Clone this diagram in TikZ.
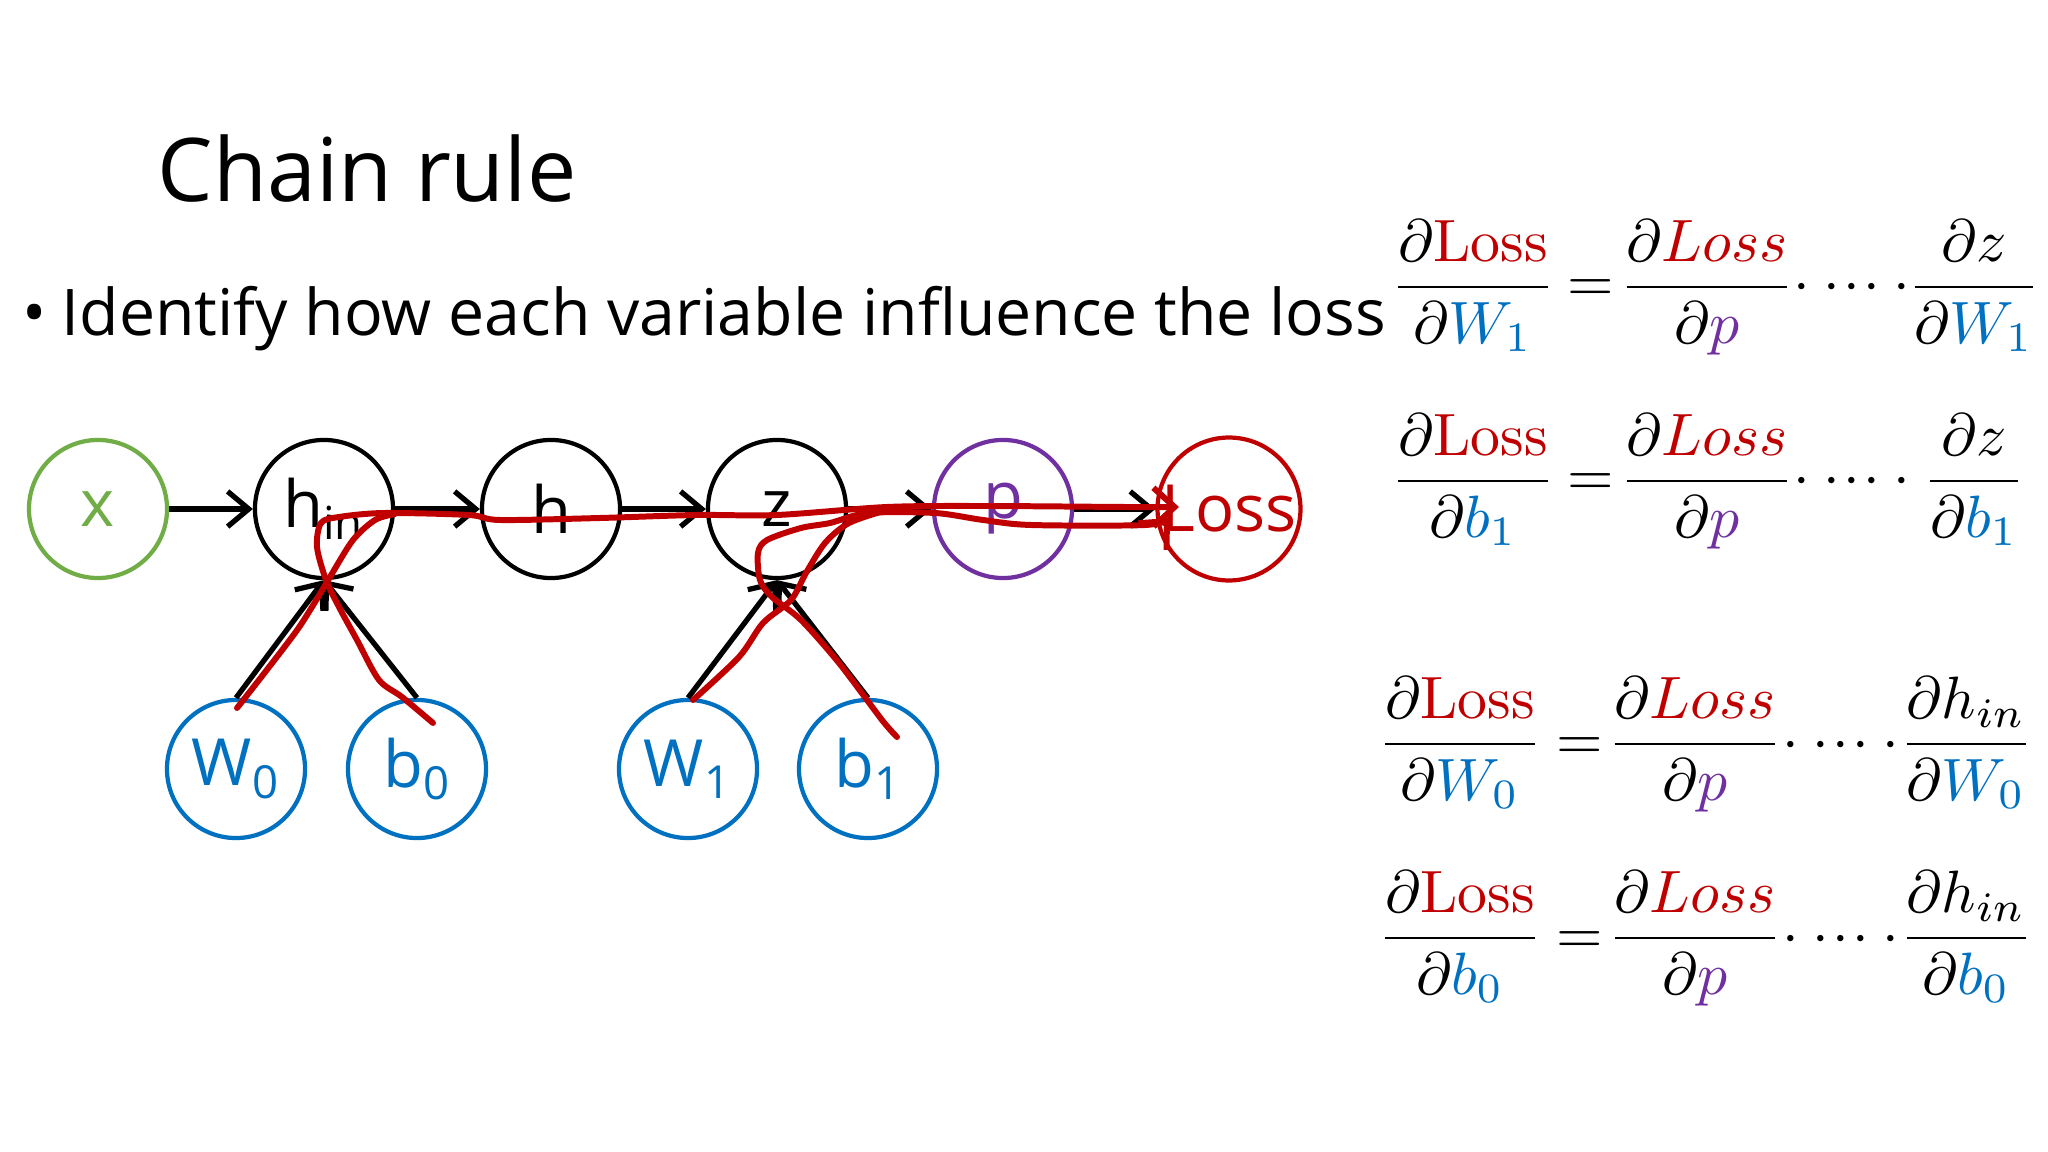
\documentclass[tikz,border=0pt]{standalone}
\usepackage{amsmath}
\usepackage{graphicx}
\usepackage[no-math]{fontspec}
\setmainfont{Open Sans}
\usetikzlibrary{arrows.meta}
\definecolor{mred}{RGB}{192, 0, 0}
\definecolor{mblue}{RGB}{0, 112, 192}
\definecolor{mpurple}{RGB}{112, 48, 160}
\definecolor{mgreen}{RGB}{112, 173, 71}
\tikzset{var/.style = {circle, draw, line width = 1.2pt, minimum size = 1.38cm, inner sep = 0,
                       font = \fontsize{18.5}{22}\selectfont}}
\tikzset{conn/.style = {-{Straight Barb[length = 6pt, width = 10pt]}, line width = 1.5pt}}
\tikzset{ink/.style = {mred, line width = 1.7pt, line cap = round, line join = round}}
\tikzset{eqn/.style = {anchor = base, inner sep = 0}}
\newcommand{\bigeq}[1]{\scalebox{1.7}{$\displaystyle #1$}}
\newcommand{\dLoss}{\partial\textcolor{mred}{\mathrm{Loss}}}
\newcommand{\dLossp}{\bigeq{\frac{\partial\textcolor{mred}{Loss}}{\partial\textcolor{mpurple}{p}}}}
\newcommand{\chaindots}{\bigeq{{\cdot}\mkern4mu{\cdot}\mkern1mu{\cdot}\mkern1mu{\cdot}\mkern4mu{\cdot}}}

\begin{document}
\begin{tikzpicture}[x = 0.01cm, y = -0.01cm]
    \fill [white] (0, 0) rectangle (2048, 1152);
    \useasboundingbox (0, 0) rectangle (2048, 1152);

    \node [anchor = base west, inner sep = 0, font = \fontsize{25}{30}\selectfont] (title) at (157, 202) {Chain rule};
    \node [anchor = base west, inner sep = 0, font = \fontsize{18.3}{22}\selectfont] (bullet) at (22, 336) {\textbullet};
    \node [anchor = base west, inner sep = 0, font = \fontsize{18.3}{22}\selectfont] (point) at (61, 336) {Identify how each variable influence the loss};

    % graph
    \node [var, mgreen] (x) at (98, 509) {x};
    \node [var] (hin) at (324, 509) {h\textsubscript{in}};
    \node [var] (h) at (551, 509) {h};
    \node [var] (z) at (777, 509) {z};
    \node [var, mpurple] (p) at (1003, 509) {p};
    \node [var, mred] (loss) at (1229, 509) {Loss};
    \node [var, mblue] (W0) at (236, 769) {W\textsubscript{0}};
    \node [var, mblue] (b0) at (417, 769) {b\textsubscript{0}};
    \node [var, mblue] (W1) at (688, 769) {W\textsubscript{1}};
    \node [var, mblue] (b1) at (868, 769) {b\textsubscript{1}};

    \draw [conn] (x) -- (hin);
    \draw [conn] (hin) -- (h);
    \draw [conn] (h) -- (z);
    \draw [conn] (z) -- (p);
    \draw [conn] (p) -- (loss);
    \draw [conn] (W0.north) -- (hin.south);
    \draw [conn] (b0.north) -- (hin.south);
    \draw [conn] (W1.north) -- (z.south);
    \draw [conn] (b1.north) -- (z.south);

    % red ink
    \draw [ink, -{Straight Barb[length = 6pt, width = 11pt]}] plot [smooth] coordinates {(433, 723) (402, 697) (379, 680) (357, 640) (339, 607) (326, 580) (317, 547) (321, 523) (339, 517) (384, 513) (469, 515) (500, 520) (600, 518) (696, 515) (777, 515) (887, 507) (983, 506) (1126, 507) (1179, 507)};
    \draw [ink] plot [smooth] coordinates {(237, 708) (259, 680) (295, 633) (312, 607) (330, 577) (353, 540) (375, 520) (395, 514)};
    \draw [ink, -{Straight Barb[length = 6pt, width = 11pt]}] plot [smooth] coordinates {(897, 737) (882, 720) (839, 663) (801, 620) (772, 597) (760, 580) (758, 553) (767, 540) (801, 528) (830, 523) (868, 513) (935, 513) (983, 520) (1031, 525) (1145, 525) (1170, 518)};
    \draw [ink] plot [smooth] coordinates {(693, 700) (739, 657) (763, 623) (791, 600) (806, 573) (825, 543) (849, 523) (887, 510)};

    % equations
    \node [eqn] (dW1) at (1473, 302) {\bigeq{\frac{\dLoss}{\partial\textcolor{mblue}{W_1}}}};
    \node [eqn] (dW1eq) at (1591, 302) {\bigeq{=}};
    \node [eqn] (dW1p) at (1707, 302) {\dLossp};
    \node [eqn] (dW1dots) at (1852, 302) {\chaindots};
    \node [eqn] (dW1z) at (1974, 302) {\bigeq{\frac{\partial z}{\partial\textcolor{mblue}{W_1}}}};

    \node [eqn] (db1) at (1473, 496) {\bigeq{\frac{\dLoss}{\partial\textcolor{mblue}{b_1}}}};
    \node [eqn] (db1eq) at (1591, 496) {\bigeq{=}};
    \node [eqn] (db1p) at (1707, 496) {\dLossp};
    \node [eqn] (db1dots) at (1852, 496) {\chaindots};
    \node [eqn] (db1z) at (1974, 496) {\bigeq{\frac{\partial z}{\partial\textcolor{mblue}{b_1}}}};

    \node [eqn] (dW0) at (1460, 759) {\bigeq{\frac{\dLoss}{\partial\textcolor{mblue}{W_0}}}};
    \node [eqn] (dW0eq) at (1580, 759) {\bigeq{=}};
    \node [eqn] (dW0p) at (1695, 759) {\dLossp};
    \node [eqn] (dW0dots) at (1841, 759) {\chaindots};
    \node [eqn] (dW0h) at (1966, 759) {\bigeq{\frac{\partial h_{in}}{\partial\textcolor{mblue}{W_0}}}};

    \node [eqn] (db0) at (1460, 953) {\bigeq{\frac{\dLoss}{\partial\textcolor{mblue}{b_0}}}};
    \node [eqn] (db0eq) at (1580, 953) {\bigeq{=}};
    \node [eqn] (db0p) at (1695, 953) {\dLossp};
    \node [eqn] (db0dots) at (1841, 953) {\chaindots};
    \node [eqn] (db0h) at (1966, 953) {\bigeq{\frac{\partial h_{in}}{\partial\textcolor{mblue}{b_0}}}};
\end{tikzpicture}
\end{document}
